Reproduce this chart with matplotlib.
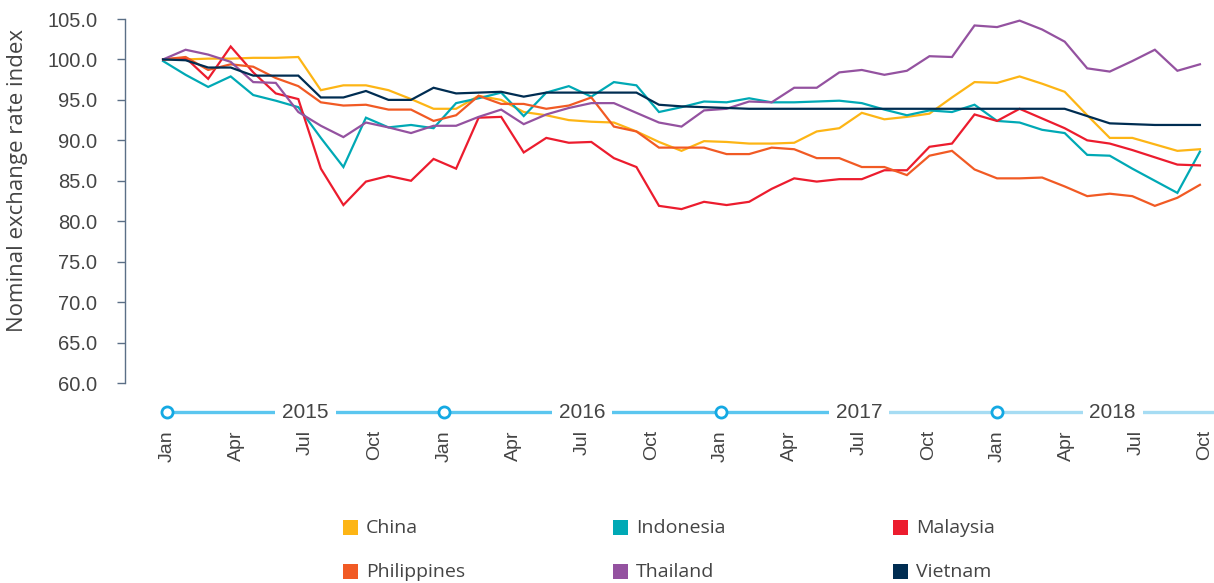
import numpy as np
import matplotlib
matplotlib.use("Agg")
import matplotlib.pyplot as plt
import matplotlib.transforms as mtransforms
from matplotlib.patches import Rectangle

# ---------------- data ----------------
countries = ["China", "Indonesia", "Malaysia", "Philippines", "Thailand", "Vietnam"]

china = [100.0, 100.0, 100.1, 100.1, 100.2, 100.2, 100.3, 96.2, 96.8, 96.8,
         96.2, 95.1, 93.9, 93.9, 95.5, 95.0, 93.5, 93.1, 92.5, 92.3,
         92.2, 91.1, 89.8, 88.7, 89.9, 89.8, 89.6, 89.6, 89.7, 91.1,
         91.5, 93.4, 92.6, 92.9, 93.3, 95.3, 97.2, 97.1, 97.9, 97.0,
         96.0, 93.1, 90.3, 90.3, 89.5, 88.7, 88.9]
indonesia = [99.8, 98.1, 96.6, 97.9, 95.6, 94.9, 94.1, 90.3, 86.7, 92.8,
             91.6, 91.9, 91.5, 94.6, 95.2, 95.9, 93.0, 95.9, 96.7, 95.4,
             97.2, 96.8, 93.5, 94.1, 94.8, 94.7, 95.2, 94.7, 94.7, 94.8,
             94.9, 94.6, 93.8, 93.1, 93.7, 93.5, 94.4, 92.4, 92.2, 91.3,
             90.9, 88.2, 88.1, 86.5, 85.0, 83.5, 88.6]
malaysia = [100.0, 100.2, 97.6, 101.6, 98.4, 95.8, 95.1, 86.5, 82.0, 84.9,
            85.6, 85.0, 87.7, 86.5, 92.8, 92.9, 88.5, 90.3, 89.7, 89.8,
            87.8, 86.7, 81.9, 81.5, 82.4, 82.0, 82.4, 84.0, 85.3, 84.9,
            85.2, 85.2, 86.3, 86.3, 89.2, 89.6, 93.2, 92.4, 93.9, 92.7,
            91.5, 90.0, 89.6, 88.8, 87.9, 87.0, 86.9]
philippines = [100.0, 100.3, 98.7, 99.4, 99.1, 97.7, 96.7, 94.7, 94.3, 94.4,
               93.8, 93.8, 92.4, 93.1, 95.5, 94.5, 94.5, 93.9, 94.3, 95.3,
               91.7, 91.1, 89.1, 89.1, 89.1, 88.3, 88.3, 89.1, 88.9, 87.8,
               87.8, 86.7, 86.7, 85.7, 88.1, 88.7, 86.4, 85.3, 85.3, 85.4,
               84.3, 83.1, 83.4, 83.1, 81.9, 82.9, 84.5]
thailand = [100.0, 101.2, 100.6, 99.7, 97.2, 97.1, 93.5, 91.8, 90.4, 92.2,
            91.6, 90.9, 91.8, 91.8, 92.9, 93.8, 92.0, 93.2, 94.0, 94.6,
            94.6, 93.4, 92.2, 91.7, 93.7, 93.9, 94.8, 94.7, 96.5, 96.5,
            98.4, 98.7, 98.1, 98.6, 100.4, 100.3, 104.2, 104.0, 104.8, 103.7,
            102.2, 98.9, 98.5, 99.8, 101.2, 98.6, 99.4]
vietnam = [100.0, 99.9, 99.0, 99.0, 98.0, 98.0, 98.0, 95.3, 95.3, 96.1,
           95.0, 95.0, 96.5, 95.8, 95.9, 96.0, 95.4, 95.9, 95.9, 95.9,
           95.9, 95.9, 94.4, 94.2, 94.1, 94.0, 93.9, 93.9, 93.9, 93.9,
           93.9, 93.9, 93.9, 93.9, 93.9, 93.9, 93.9, 93.9, 93.9, 93.9,
           93.9, 93.0, 92.1, 92.0, 91.9, 91.9, 91.9]

month_labels = ["Jan", "Apr", "Jul", "Oct"] * 4
years = ["2015", "2016", "2017", "2018"]
y_ticks = [60, 65, 70, 75, 80, 85, 90, 95, 100, 105]

series = [china, indonesia, malaysia, philippines, thailand, vietnam]
colors = ["#fdb515", "#00a9b5", "#ec1c2e", "#f15a24", "#9452a0", "#002d52"]

# ---------------- layout ----------------
W, H = 1214, 583
fig = plt.figure(figsize=(W / 100, H / 100), dpi=100)
ax_l, ax_r, ax_t, ax_b = 125, 1214, 19, 383
ax = fig.add_axes([ax_l / W, (H - ax_b) / H, (ax_r - ax_l) / W, (ax_b - ax_t) / H])

px0, px45 = 167, 1205          # pixel of Jan 2015 and Oct 2018 ticks
ppu = (px45 - px0) / 45.0
ax.set_xlim(-(px0 - ax_l) / ppu, 45 + (ax_r - px45) / ppu)
ax.set_ylim(60, 105)

n = len(china)
x = np.linspace(-0.17, 44.78, n)
for vals, col in zip(series, colors):
    ax.plot(x, vals, color=col, lw=1.6, solid_joinstyle="miter", zorder=3)

tick_font = "Liberation Sans"
text_col = "#444444"
spine_col = "#5b6f86"

for s in ["top", "right", "bottom"]:
    ax.spines[s].set_visible(False)
ax.spines["left"].set_color(spine_col)
ax.spines["left"].set_linewidth(1.0)

ax.set_yticks(y_ticks)
ax.set_yticklabels([f"{v:.1f}" for v in y_ticks], fontsize=14.5,
                   fontfamily=tick_font, color=text_col)
ax.tick_params(axis="y", length=6, width=1, color=spine_col, pad=14)

ax.set_xticks(np.arange(0, 46, 3))
ax.set_xticklabels(month_labels, rotation=90, fontsize=14,
                   fontfamily=tick_font, color=text_col)
ax.tick_params(axis="x", length=0, pad=34)

# year band
trans = mtransforms.blended_transform_factory(ax.transData, ax.transAxes)
yb = -(412 - ax_b) / (ax_b - ax_t)
xmax = ax.get_xlim()[1]
year_pos = [6, 18, 30, 41]
ax.plot([0, year_pos[2]], [yb, yb], transform=trans, clip_on=False,
        color="#5bc6ef", lw=2.4, zorder=2)
ax.plot([year_pos[2], xmax], [yb, yb], transform=trans, clip_on=False,
        color="#a6dcf3", lw=2.4, zorder=2)
ax.plot([0, 12, 24, 36], [yb] * 4, transform=trans, clip_on=False, ls="none",
        marker="o", ms=8, mfc="white", mec="#14a9e3", mew=2, zorder=4)
for xp, yl in zip(year_pos, years):
    ax.text(xp, yb, yl, transform=trans, ha="center", va="center",
            fontsize=15, fontfamily=tick_font, color=text_col, zorder=5,
            bbox=dict(facecolor="white", edgecolor="none", pad=5))

# y label
fig.text(18 / W, 1 - 180 / H, "Nominal exchange rate index", rotation=90,
         ha="center", va="center", fontsize=16, fontfamily="Open Sans",
         color=text_col)

# legend (manual grid)
col_x = [343, 613, 893]
row_y = [527, 571]
sq = 15
for i, (name, col) in enumerate(zip(countries, colors)):
    cx = col_x[i % 3]
    ry = row_y[i // 3]
    fig.add_artist(Rectangle((cx / W, 1 - (ry + sq / 2) / H), sq / W, sq / H,
                             transform=fig.transFigure, facecolor=col,
                             edgecolor="none"))
    fig.text((cx + 23) / W, 1 - (ry + 1) / H, name, ha="left", va="center",
             fontsize=14, fontfamily="Open Sans", color=text_col)

fig.savefig("out.png", dpi=100)
